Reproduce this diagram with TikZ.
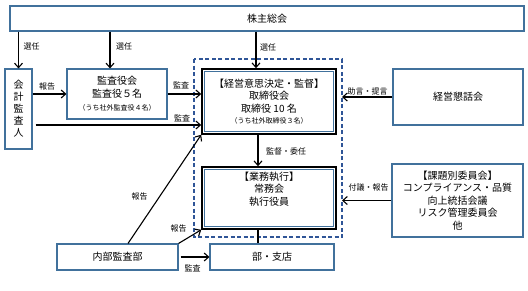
\documentclass[tikz,border=0pt]{standalone}
\usepackage{fontspec}
\setmainfont{Noto Sans CJK JP}
\usetikzlibrary{arrows.meta,calc}
\definecolor{boxblue}{RGB}{65,113,156}
\definecolor{dashblue}{RGB}{47,85,151}
\begin{document}
\begin{tikzpicture}[x=1pt,y=-1pt,
  box/.style={draw=boxblue,line width=1.1pt,fill=white,inner sep=0pt,align=center,font=\fontsize{10}{12.5}\selectfont},
  dbox/.style={draw=black,line width=1.6pt,fill=white,inner sep=0pt,align=center,font=\fontsize{10}{12.5}\selectfont},
  arr/.style={draw=black,line width=1.1pt,-{Straight Barb[length=4.5pt,width=8pt,line width=1.1pt]}},
  lbl/.style={font=\fontsize{8}{9}\selectfont,inner sep=0pt},
  small/.style={font=\fontsize{7}{8}\selectfont}
]
\useasboundingbox (0,0) rectangle (528,290);
% dashed group
\draw[dashblue,line width=1.1pt,dash pattern=on 4pt off 2.5pt] (194,59) rectangle (342,237);
% boxes
\node[box,minimum width=514pt,minimum height=25pt] (sh) at (267,18.5) {株主総会};
\node[box,minimum width=27pt,minimum height=80pt,font=\fontsize{10}{12}\selectfont] (kaikei) at (18.5,109) {会\\計\\監\\査\\人};
\node[box,minimum width=100pt,minimum height=50pt] (kansa) at (117,94) {監査役会\\監査役５名\\[1pt]{\fontsize{7}{8}\selectfont （うち社外監査役４名）}};
\node[dbox,minimum width=134pt,minimum height=65pt] (tori) at (269,101.5) {【経営意思決定・監督】\\取締役会\\取締役 10 名\\[-1pt]{\fontsize{7}{8}\selectfont （うち社外取締役３名）}};
\draw[boxblue,line width=1.1pt] ([shift={(3pt,-3pt)}]tori.north west) rectangle ([shift={(-3pt,3pt)}]tori.south east);
\node[dbox,minimum width=134pt,minimum height=62pt] (gyomu) at (269,198) {【業務執行】\\常務会\\執行役員\\[6pt]};
\draw[boxblue,line width=1.1pt] ([shift={(3pt,-3pt)}]gyomu.north west) rectangle ([shift={(-3pt,3pt)}]gyomu.south east);
\node[box,minimum width=124pt,minimum height=26pt] (bu) at (272,257) {部・支店};
\node[box,minimum width=121pt,minimum height=26pt] (naibu) at (117.5,257) {内部監査部};
\node[box,minimum width=130pt,minimum height=56pt] (kondan) at (458,97) {経営懇話会};
\node[box,minimum width=131pt,minimum height=73pt] (kadai) at (457.5,200.5) {【課題別委員会】\\コンプライアンス・品質\\向上統括会議\\リスク管理委員会\\他};
% coordinates
\coordinate (c1) at (110,0);
\coordinate (c2) at (256,0);
\coordinate (c3) at (258,0);
\coordinate (y125) at (0,125);
\coordinate (ds) at (342,0);
% arrows
\draw[arr] (sh.south -| kaikei.north) -- (kaikei.north);
\draw[arr] (sh.south -| c1) -- (kansa.north -| c1);
\draw[arr] (sh.south -| c2) -- (tori.north -| c2);
\draw[arr] (kaikei.east |- kansa.west) -- (kansa.west);
\draw[arr] (kansa.east) -- (kansa.east -| tori.west);
\draw[arr] ([xshift=3pt]kaikei.east |- y125) -- (tori.west |- y125);
\draw[arr] ([xshift=10.5pt]naibu.north) -- (tori.south west);
\draw[arr] (naibu.north east) -- (gyomu.south west);
\draw[arr] ([xshift=2pt]naibu.east) -- (bu.west);
\draw[arr] (tori.south -| c3) -- (gyomu.north -| c3);
\draw[line width=1.1pt] (gyomu.south -| c3) -- (bu.north -| c3);
\draw[arr] (kondan.west) -- (kondan.west -| ds);
\draw[arr] (kadai.west) -- (kadai.west -| ds);
% labels
\node[lbl] (l1) at (31.5,46) {選任};
\node[lbl] (l2) at (124,46) {選任};
\node[lbl] (l3) at (268,47) {選任};
\node[lbl] (l4) at (47,86) {報告};
\node[lbl] (l5) at (181,85) {監査};
\node[lbl] (l6) at (182,118) {監査};
\node[lbl] (l7) at (139.5,196) {報告};
\node[lbl] (l8) at (178.5,228) {報告};
\node[lbl] (l9) at (192.5,268) {監査};
\node[lbl] (l10) at (286,151) {監督・委任};
\node[lbl] (l11) at (367.5,91) {助言・提言};
\node[lbl] (l12) at (368.5,187) {付議・報告};
\end{tikzpicture}
\end{document}
